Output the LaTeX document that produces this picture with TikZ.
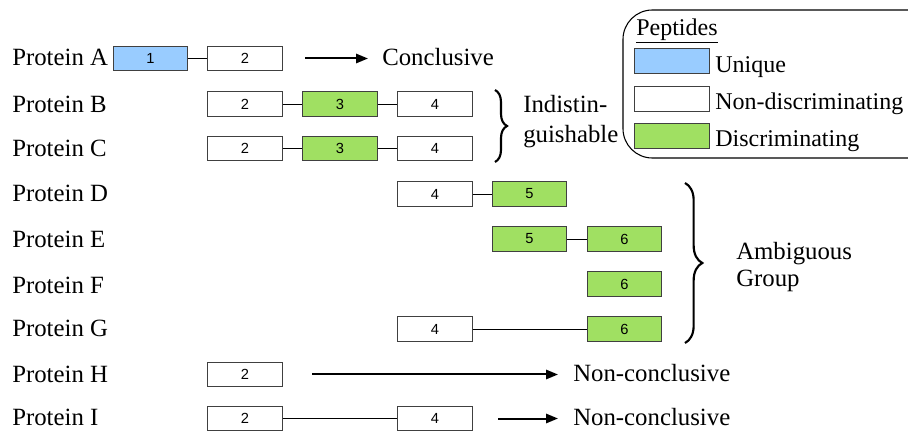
\documentclass[tikz,border=0pt]{standalone}
\usepackage{fontspec}
\setmainfont{Liberation Serif}
\newfontfamily\boxfont{Liberation Sans}
\usetikzlibrary{arrows.meta,decorations.pathreplacing}
\definecolor{pblue}{HTML}{99CCFF}
\definecolor{pgreen}{HTML}{A0E062}
\definecolor{pedge}{HTML}{404040}
\begin{document}
\begin{tikzpicture}[x=0.75pt,y=-0.75pt,
  pep/.style={draw=pedge,line width=0.7pt,minimum width=56pt,minimum height=18.5pt,inner sep=0pt,font=\boxfont\fontsize{11}{13}\selectfont},
  uni/.style={pep,fill=pblue},
  non/.style={pep,fill=white},
  dis/.style={pep,fill=pgreen},
  lab/.style={anchor=west,inner sep=0pt,font=\fontsize{18.6}{21}\selectfont},
  leg/.style={lab,font=\fontsize{18}{21}\selectfont},
  link/.style={line width=0.6pt},
  res/.style={line width=1.5pt,-{Triangle[length=9pt,width=7pt]}},
  brc/.style={decorate,decoration={brace,amplitude=9pt},line width=1.6pt}]
\useasboundingbox (0,0) rectangle (908,431);
% row labels
\node[lab] (la) at (12,57) {Protein A};
\node[lab] (lb) at (12,104) {Protein B};
\node[lab] (lc) at (12,148) {Protein C};
\node[lab] (ld) at (12,193) {Protein D};
\node[lab] (le) at (12,239) {Protein E};
\node[lab] (lf) at (12,285) {Protein F};
\node[lab] (lg) at (12,328) {Protein G};
\node[lab] (lh) at (12,374) {Protein H};
\node[lab] (li) at (12,417) {Protein I};
% peptide boxes
\node[uni] (a1) at (150.5,58.5) {1};
\node[non] (a2) at (245,58.5) {2};
\node[non] (b2) at (245,104) {2};
\node[dis] (b3) at (340,104) {3};
\node[non] (b4) at (435,104) {4};
\node[non] (c2) at (245,148.5) {2};
\node[dis] (c3) at (340,148.5) {3};
\node[non] (c4) at (435,148.5) {4};
\node[non] (d4) at (435,194) {4};
\node[dis] (d5) at (529.5,194) {5};
\node[dis] (e5) at (529.5,239) {5};
\node[dis] (e6) at (624.5,239) {6};
\node[dis] (f6) at (624.5,284) {6};
\node[non] (g4) at (435,329) {4};
\node[dis] (g6) at (624.5,329) {6};
\node[non] (h2) at (245,374.5) {2};
\node[non] (i2) at (245,418.5) {2};
\node[non] (i4) at (435,418.5) {4};
% links
\draw[link] (a1) -- (a2);
\draw[link] (b2) -- (b3);
\draw[link] (b3) -- (b4);
\draw[link] (c2) -- (c3);
\draw[link] (c3) -- (c4);
\draw[link] (d4) -- (d5);
\draw[link] (e5) -- (e6);
\draw[link] (g4) -- (g6);
\draw[link] (i2) -- (i4);
% results
\node[lab] (conc) at (382,57) {Conclusive};
\node[lab] (nch) at (573,373) {Non-conclusive};
\node[lab] (nci) at (573,417) {Non-conclusive};
\coordinate (sa) at (305,58.5);
\coordinate (ea) at (368,58.5);
\coordinate (sh) at (312,374.5);
\coordinate (eh) at (558,374.5);
\coordinate (si) at (498,418.5);
\coordinate (ei) at (558,418.5);
\draw[res] (sa) -- (ea);
\draw[res] (sh) -- (eh);
\draw[res] (si) -- (ei);
% braces
\coordinate (bi1) at (495,90);
\coordinate (bi2) at (495,162);
\draw[brc] (bi1) -- (bi2);
\node[lab,align=left,font=\fontsize{18.6}{22.5}\selectfont] (ind) at (523,122) {Indistin-\\guishable};
\coordinate (ba1) at (685,183);
\coordinate (ba2) at (685,343);
\draw[brc,decoration={amplitude=13pt}] (ba1) -- (ba2);
\node[lab,align=left,font=\fontsize{18.6}{20}\selectfont] (amb) at (736,267) {Ambiguous\\Group};
% legend
\draw[line width=0.8pt,rounded corners=22pt] (623,10) rectangle (940,158);
\node[leg] (pep) at (636,31) {\underline{Peptides}};
\node[uni] (ku) at (672,61) {};
\node[non] (kn) at (672,99) {};
\node[dis] (kd) at (672,136) {};
\node[leg] (tu) at (715,67) {Unique};
\node[leg] (tn) at (715,104) {Non-discriminating};
\node[leg] (td) at (715,141) {Discriminating};
\end{tikzpicture}
\end{document}
